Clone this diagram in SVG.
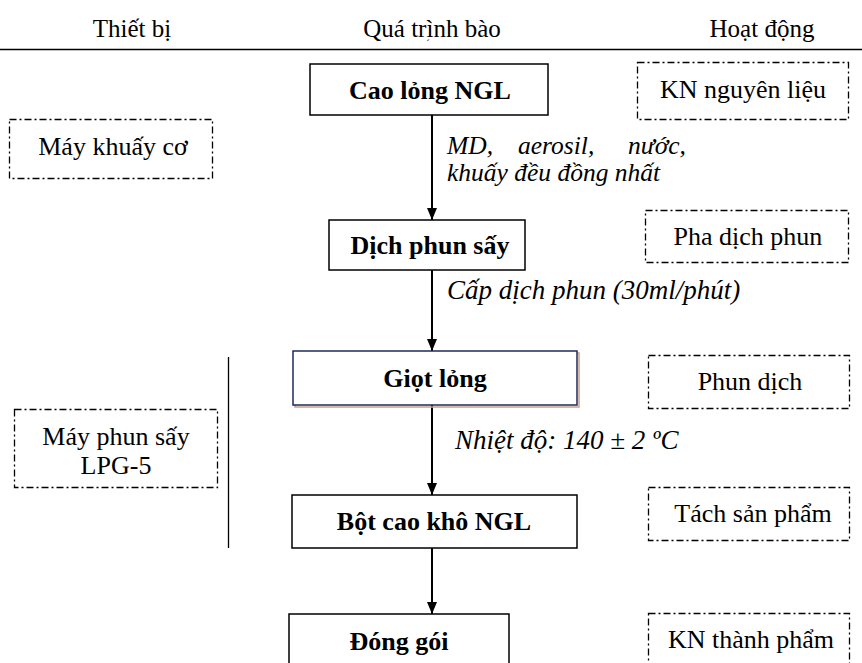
<svg xmlns="http://www.w3.org/2000/svg" width="862" height="663" viewBox="0 0 862 663">
<defs>
<style>
.h{font-size:25px}
.n{font-size:26px;font-weight:bold;text-anchor:middle}
.r{font-size:26px;text-anchor:middle}
.i{font-size:27px;font-style:italic}
.i2{font-size:25.5px;font-style:italic}
.box{fill:#fff;stroke:#000;stroke-width:1.5}
.dash{fill:none;stroke:#000;stroke-width:1.3;stroke-dasharray:7,3,2,3}
.ln{stroke:#000;stroke-width:2;fill:none}
</style>
<marker id="ah" viewBox="0 0 12 10" refX="12" refY="5" markerWidth="12" markerHeight="10" markerUnits="userSpaceOnUse" orient="auto">
<path d="M0,0 L12,5 L0,10 Z" fill="#000"/>
</marker>
</defs>
<rect width="862" height="663" fill="#fff"/>
<g font-family="'Liberation Serif', 'Times New Roman', serif" fill="#000">
<g id="header">
<text class="h" x="132" y="37" text-anchor="middle">Thiết bị</text>
<text class="h" x="432" y="37" text-anchor="middle">Quá trình bào<tspan x="428" y="47" font-size="11">ˊ</tspan></text>
<text class="h" x="762" y="37" text-anchor="middle">Hoạt động</text>
<line x1="0" y1="49.5" x2="862" y2="49.5" stroke="#000" stroke-width="1.5"/>
<line x1="228.5" y1="357" x2="228.5" y2="548" stroke="#000" stroke-width="1.3"/>
</g>
<g id="connectors">
<line class="ln" x1="432" y1="115" x2="432" y2="220" marker-end="url(#ah)"/>
<line class="ln" x1="432" y1="270" x2="432" y2="351" marker-end="url(#ah)"/>
<line class="ln" x1="432" y1="405" x2="432" y2="495" marker-end="url(#ah)"/>
<line class="ln" x1="432" y1="548" x2="432" y2="614" marker-end="url(#ah)"/>
<text class="i2" x="447" y="154">MD,<tspan x="518">aerosil,</tspan><tspan x="628">nước,</tspan></text>
<text class="i2" x="447" y="181">khuấy đều đồng nhất</text>
<text class="i" x="447" y="299">Cấp dịch phun (30ml/phút)</text>
<text class="i" x="455" y="449">Nhiệt độ: 140 ± 2 ºC</text>
</g>
<g id="n-cao-long">
<rect class="box" x="310" y="64" width="238" height="51"/>
<text class="n" x="430" y="99">Cao lỏng NGL</text>
</g>
<g id="n-dich-phun">
<rect class="box" x="329" y="220" width="196" height="50"/>
<text class="n" x="430" y="254">Dịch phun sấy</text>
</g>
<g id="n-giot-long">
<rect x="295" y="353" width="284" height="54" fill="none" stroke="#c9a08c" stroke-width="1.5"/>
<rect x="293" y="351" width="284" height="54" fill="#fff" stroke="#1f2a5c" stroke-width="1.5"/>
<text class="n" x="435" y="387">Giọt lỏng</text>
</g>
<g id="n-bot-cao">
<rect class="box" x="292" y="495" width="285" height="53"/>
<text class="n" x="434" y="530">Bột cao khô NGL</text>
</g>
<g id="n-dong-goi">
<rect class="box" x="289" y="614" width="220" height="60"/>
<text class="n" x="399" y="650">Đóng gói</text>
</g>
<g id="a-kn-nguyen-lieu">
<rect class="dash" x="637.5" y="62.5" width="211" height="57"/>
<text class="r" x="743" y="98">KN nguyên liệu</text>
</g>
<g id="a-pha-dich">
<rect class="dash" x="645.5" y="210.5" width="203" height="52"/>
<text class="r" x="748" y="245">Pha dịch phun</text>
</g>
<g id="a-phun-dich">
<rect class="dash" x="648.5" y="355.5" width="201" height="53"/>
<text class="r" x="750" y="390">Phun dịch</text>
</g>
<g id="a-tach">
<rect class="dash" x="648.5" y="487.5" width="201" height="53"/>
<text class="r" x="753" y="522">Tách sản phẩm</text>
</g>
<g id="a-kn-thanh-pham">
<rect class="dash" x="648.5" y="613.5" width="201" height="60"/>
<text class="r" x="751" y="648">KN thành phẩm</text>
</g>
<g id="e-may-khuay">
<rect class="dash" x="9.5" y="119.5" width="203" height="59"/>
<text class="r" x="113" y="155">Máy khuấy cơ</text>
</g>
<g id="e-may-phun">
<rect class="dash" x="14.5" y="409.5" width="203" height="78"/>
<text class="r" x="116" y="445">Máy phun sấy</text>
<text class="r" x="116" y="474">LPG-5</text>
</g>
</g>
</svg>
